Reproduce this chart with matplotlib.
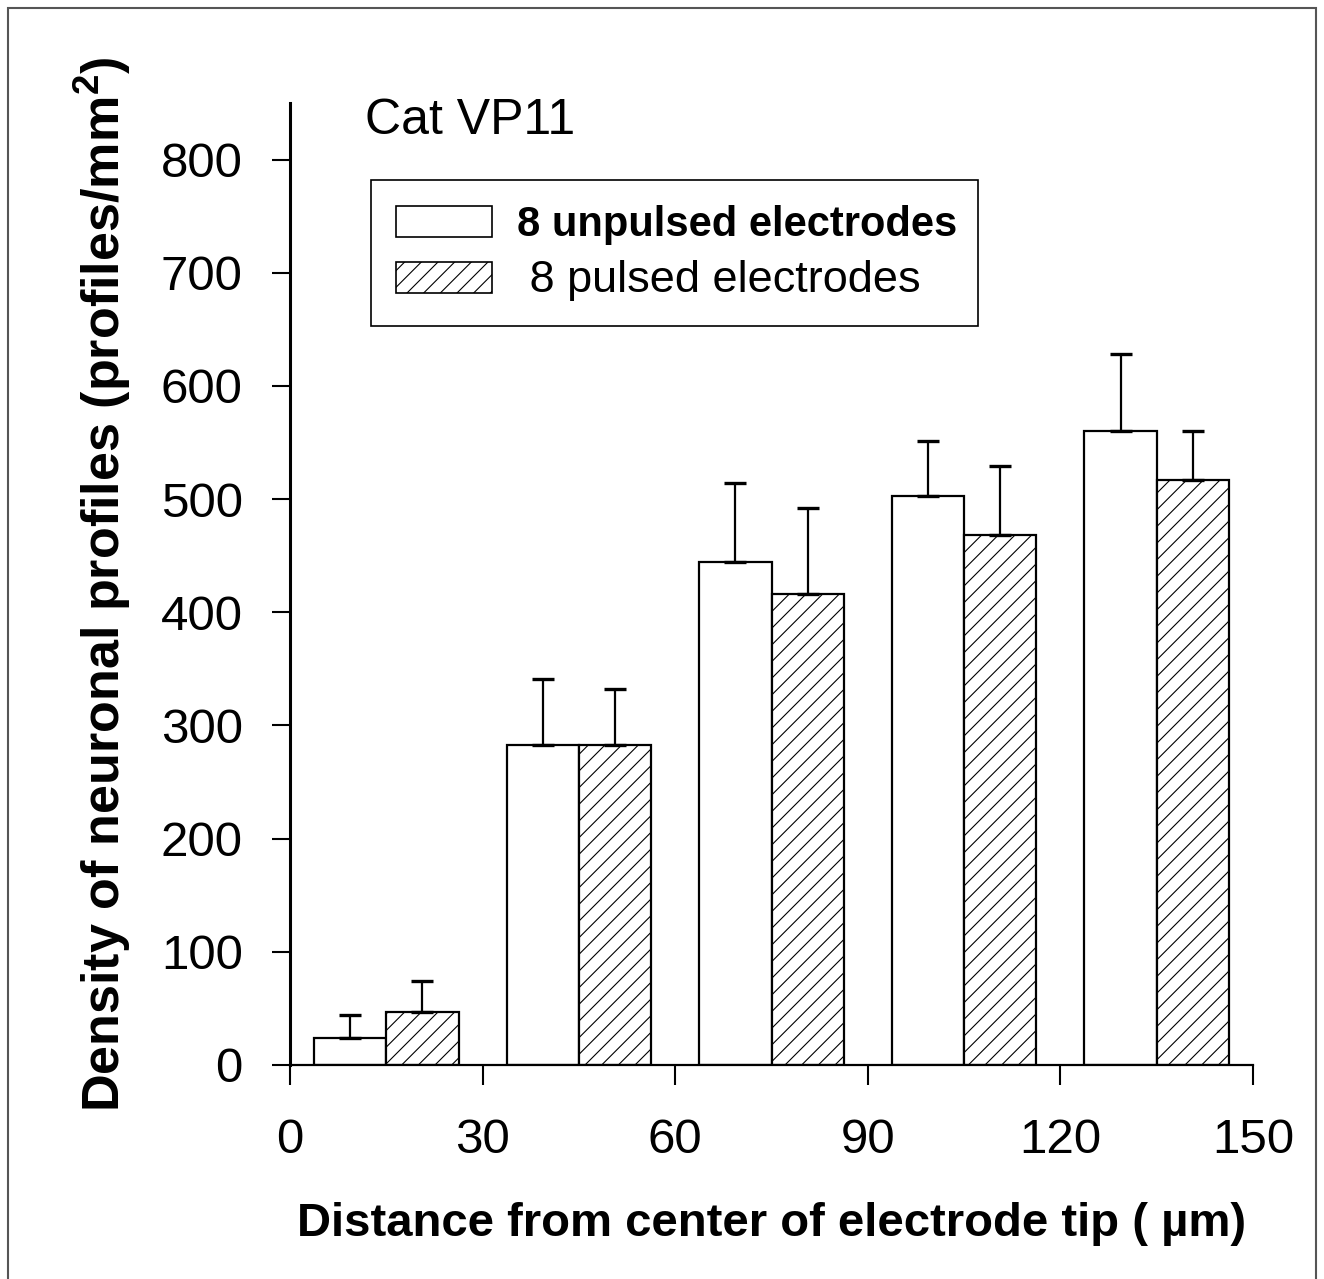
import matplotlib
matplotlib.use("Agg")
import matplotlib.pyplot as plt
from matplotlib.patches import Rectangle
import numpy as np

plt.rcParams['font.family'] = ['Liberation Sans', 'DejaVu Sans']
plt.rcParams['mathtext.fontset'] = 'custom'
plt.rcParams['mathtext.rm'] = 'Liberation Sans:bold'
plt.rcParams['mathtext.bf'] = 'Liberation Sans:bold'
plt.rcParams['hatch.linewidth'] = 0.8

# ---- data ----
distance_centers = [15, 45, 75, 105, 135]
unpulsed_mean = [24, 283, 444, 503, 560]
unpulsed_err = [20, 58, 70, 48, 68]
pulsed_mean = [47, 283, 416, 468, 517]
pulsed_err = [27, 49, 76, 61, 43]
x_ticks = [0, 30, 60, 90, 120, 150]
y_ticks = [0, 100, 200, 300, 400, 500, 600, 700, 800]
labels = ["8 unpulsed electrodes", " 8 pulsed electrodes"]

W, H = 1324, 1279
fig = plt.figure(figsize=(W / 100, H / 100), dpi=100)
ax = fig.add_axes([290 / W, 1 - 1065 / H, (1253 - 290) / W, (1065 - 103) / H])

bw = 11.25
x = np.array(distance_centers, dtype=float)
err_kw = dict(ecolor='black', elinewidth=1.6, capsize=8, capthick=2.4)
b1 = ax.bar(x - bw / 2, unpulsed_mean, width=bw, facecolor='white', edgecolor='black',
            linewidth=1.6, yerr=[np.zeros(5), unpulsed_err], error_kw=err_kw, zorder=2)
b2 = ax.bar(x + bw / 2, pulsed_mean, width=bw, facecolor='white', edgecolor='black',
            linewidth=1.6, hatch='//', yerr=[np.zeros(5), pulsed_err], error_kw=err_kw, zorder=2)

ax.set_xlim(0, 150)
ax.set_ylim(0, 850)
ax.set_xticks(x_ticks)
ax.set_yticks(y_ticks)
ax.spines['top'].set_visible(False)
ax.spines['right'].set_visible(False)
ax.spines['left'].set_linewidth(2.2)
ax.spines['bottom'].set_linewidth(1.6)
ax.tick_params(axis='y', direction='out', length=13, width=1.5, pad=21, labelsize=35.5)
ax.tick_params(axis='x', direction='out', length=14.5, width=1.5, pad=24, labelsize=35.5)

ax.set_xlabel("Distance from center of electrode tip ( µm)", fontsize=34,
              fontweight='bold', labelpad=28)
ax.set_ylabel(r"Density of neuronal profiles (profiles/mm$^{2}$)", fontsize=37.5,
              fontweight='bold', labelpad=20)

ax.text(0.078, 1.005, "Cat VP11", transform=ax.transAxes, fontsize=36,
        ha='left', va='top')

h1 = Rectangle((0, 0), 1, 1, facecolor='white', edgecolor='black', linewidth=1.2)
h2 = Rectangle((0, 0), 1, 1, facecolor='white', edgecolor='black', linewidth=1.2, hatch='//')
leg = ax.legend([h1, h2], labels, loc='upper left',
                bbox_to_anchor=(0.0841, 0.772, 0.630, 0.148), mode='expand',
                fontsize=30, frameon=True, fancybox=False, framealpha=1,
                edgecolor='black', handlelength=2.3, handleheight=0.75,
                handletextpad=0.6, labelspacing=0.36, borderpad=0.6,
                borderaxespad=0)
leg.get_frame().set_linewidth(1.2)
leg.get_texts()[0].set_fontweight('bold')
leg.get_texts()[1].set_fontsize(32.5)

fig.patches.append(Rectangle((8 / W, -0.05), (1316 - 8) / W, 1.05 - 8 / H,
                             transform=fig.transFigure, fill=False,
                             edgecolor='#555555', linewidth=1.5))

fig.savefig("out.png", dpi=100, facecolor='white')
